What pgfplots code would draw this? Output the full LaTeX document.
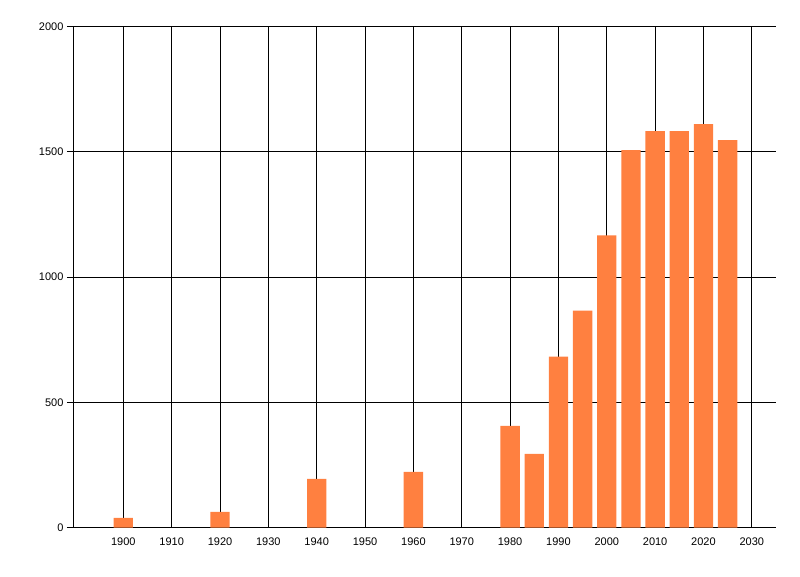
\documentclass[border=0pt]{standalone}
\usepackage{fontspec}
\setmainfont{Liberation Sans}
\usepackage{pgfplots}
\pgfplotsset{compat=1.18}
\definecolor{barfill}{RGB}{255,128,64}
\begin{document}
\begin{tikzpicture}
\useasboundingbox (-74pt,-48.5pt) rectangle (726pt,527.5pt);
\begin{axis}[
    at={(0,0)}, anchor=south west,
    scale only axis,
    width=701.5pt, height=501pt,
    xmin=1889.8, xmax=2034.9,
    ymin=0, ymax=2000,
    axis x line*=bottom,
    axis y line*=left,
    axis line style={black, line width=1pt, -},
    xtick={1900,1910,...,2030},
    ytick={0,500,...,2000},
    grid=major,
    major grid style={black, line width=1pt},
    tick align=outside,
    major tick length=7pt,
    xtick style={draw=none},
    ytick style={black, line width=1pt},
    tick label style={font=\fontsize{11}{13}\selectfont},
    /pgf/number format/assume math mode=true,
    /pgf/number format/1000 sep={},
    ybar, bar width=4, bar shift=0pt,
]
\addplot[fill=barfill, draw=none] coordinates {
    (1900, 38) (1920, 62) (1940, 194) (1960, 222)
    (1980, 406) (1985, 294) (1990, 682) (1995, 866)
    (2000, 1166) (2005, 1506) (2010, 1582) (2015, 1582)
    (2020, 1610) (2025, 1546)
};
\end{axis}
\end{tikzpicture}
\end{document}
